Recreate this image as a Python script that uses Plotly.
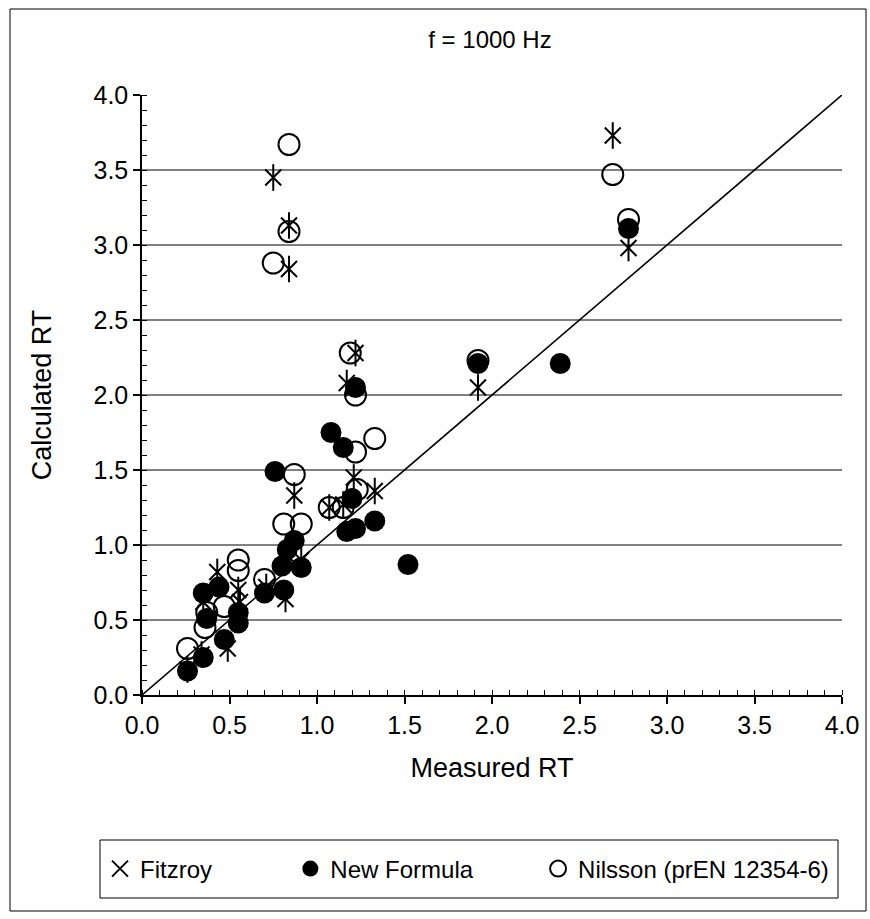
import plotly.graph_objects as go

# ---------------- data ----------------
title_text = "f = 1000 Hz"
x_title = "Measured RT"
y_title = "Calculated RT"
tick_vals = [0.0, 0.5, 1.0, 1.5, 2.0, 2.5, 3.0, 3.5, 4.0]
tick_labels = ["0.0", "0.5", "1.0", "1.5", "2.0", "2.5", "3.0", "3.5", "4.0"]
series_names = ["Fitzroy", "New Formula", "Nilsson (prEN 12354-6)"]

fitz_x = [0.26, 0.34, 0.35, 0.43, 0.49, 0.55, 0.56, 0.71, 0.82, 0.83, 0.91, 0.87,
          0.75, 0.84, 0.84, 1.07, 1.15, 1.17, 1.21, 1.22, 1.33, 1.92, 2.69, 2.78]
fitz_y = [0.17, 0.27, 0.62, 0.82, 0.31, 0.70, 0.62, 0.72, 0.64, 0.93, 0.90, 1.33,
          3.45, 3.13, 2.84, 1.25, 1.27, 2.08, 1.45, 2.28, 1.36, 2.05, 3.73, 2.98]

new_x = [0.26, 0.35, 0.35, 0.37, 0.44, 0.47, 0.55, 0.55, 0.70, 0.76, 0.80, 0.81, 0.83,
         0.87, 0.91, 1.08, 1.15, 1.17, 1.20, 1.22, 1.22, 1.33, 1.52, 1.92, 2.39, 2.78]
new_y = [0.16, 0.25, 0.68, 0.51, 0.72, 0.37, 0.55, 0.48, 0.68, 1.49, 0.86, 0.70, 0.97,
         1.03, 0.85, 1.75, 1.65, 1.09, 1.31, 1.11, 2.05, 1.16, 0.87, 2.21, 2.21, 3.11]

nils_x = [0.26, 0.36, 0.37, 0.47, 0.55, 0.55, 0.70, 0.75, 0.81, 0.84, 0.84, 0.87,
          0.91, 1.07, 1.15, 1.19, 1.22, 1.22, 1.23, 1.33, 1.92, 2.69, 2.78]
nils_y = [0.31, 0.45, 0.55, 0.59, 0.90, 0.83, 0.77, 2.88, 1.14, 3.09, 3.67, 1.47,
          1.14, 1.25, 1.25, 2.28, 1.62, 2.00, 1.37, 1.71, 2.23, 3.47, 3.17]

diag_x = [0.0, 4.0]
diag_y = [0.0, 4.0]

# ---------------- figure ----------------
FONT = "Arial, Liberation Sans, sans-serif"
NB = "\u00a0"
fig = go.Figure()

fig.add_trace(go.Scatter(x=diag_x, y=diag_y, mode="lines",
                         line=dict(color="black", width=1.6),
                         showlegend=False, hoverinfo="skip"))

fig.add_trace(go.Scatter(x=fitz_x, y=fitz_y, mode="markers",
                         name=series_names[0] + NB * 11,
                         legendrank=1,
                         marker=dict(symbol="x-thin-open", size=16, color="black",
                                     line=dict(color="black", width=2))))
fig.add_trace(go.Scatter(x=fitz_x, y=fitz_y, mode="markers", name=series_names[0],
                         showlegend=False,
                         marker=dict(symbol="line-ns-open", size=19, color="black",
                                     line=dict(color="black", width=2))))

fig.add_trace(go.Scatter(x=nils_x, y=nils_y, mode="markers",
                         name=series_names[2],
                         legendrank=3,
                         marker=dict(symbol="circle-open", size=21, color="black",
                                     line=dict(color="black", width=2))))

fig.add_trace(go.Scatter(x=new_x, y=new_y, mode="markers",
                         name=series_names[1] + NB * 9,
                         legendrank=2,
                         marker=dict(symbol="circle", size=21, color="black",
                                     line=dict(color="black", width=0))))

axis_common = dict(
    range=[0, 4],
    tickvals=tick_vals,
    ticktext=tick_labels,
    ticks="outside",
    ticklen=7,
    tickwidth=1.5,
    tickcolor="black",
    showline=True,
    linecolor="black",
    linewidth=1.5,
    zeroline=False,
    tickfont=dict(family=FONT, size=25, color="black"),
    minor=dict(ticks="inside", ticklen=5, tickwidth=1.2, tickcolor="black",
               dtick=0.1, tick0=0, showgrid=False),
    fixedrange=True,
)

fig.update_layout(
    width=870, height=919,
    margin=dict(l=142, r=28, t=95, b=224),
    paper_bgcolor="white",
    plot_bgcolor="white",
    font=dict(family=FONT, color="black"),
    title=dict(text=title_text, x=490 / 870, xref="container", xanchor="center",
               y=1 - 40 / 919, yref="container", yanchor="middle",
               font=dict(family=FONT, size=24, color="black")),
    xaxis=dict(axis_common, showgrid=False,
               title=dict(text=x_title, font=dict(family=FONT, size=27, color="black"),
                          standoff=20)),
    yaxis=dict(axis_common, showgrid=True, gridcolor="#808080", gridwidth=1.5,
               title=dict(text=y_title, font=dict(family=FONT, size=27, color="black"),
                          standoff=34)),
    legend=dict(orientation="h", x=(100 - 142) / 700, xref="paper",
                xanchor="left", y=(695 - 869) / 600, yanchor="middle",
                borderwidth=0, bgcolor="rgba(0,0,0,0)",
                font=dict(family=FONT, size=24, color="black"),
                itemwidth=30, traceorder="normal"),
    shapes=[
        dict(type="rect", xref="paper", yref="paper",
             x0=(10 - 142) / 700, x1=(866 - 142) / 700,
             y0=(695 - 911) / 600, y1=(695 - 9) / 600,
             line=dict(color="black", width=1), fillcolor="rgba(0,0,0,0)",
             layer="below"),
        dict(type="rect", xref="paper", yref="paper",
             x0=(100 - 142) / 700, x1=(838 - 142) / 700,
             y0=(695 - 898) / 600, y1=(695 - 840) / 600,
             line=dict(color="black", width=1), fillcolor="rgba(0,0,0,0)",
             layer="below"),
    ],
)

fig.write_html("out.html")
